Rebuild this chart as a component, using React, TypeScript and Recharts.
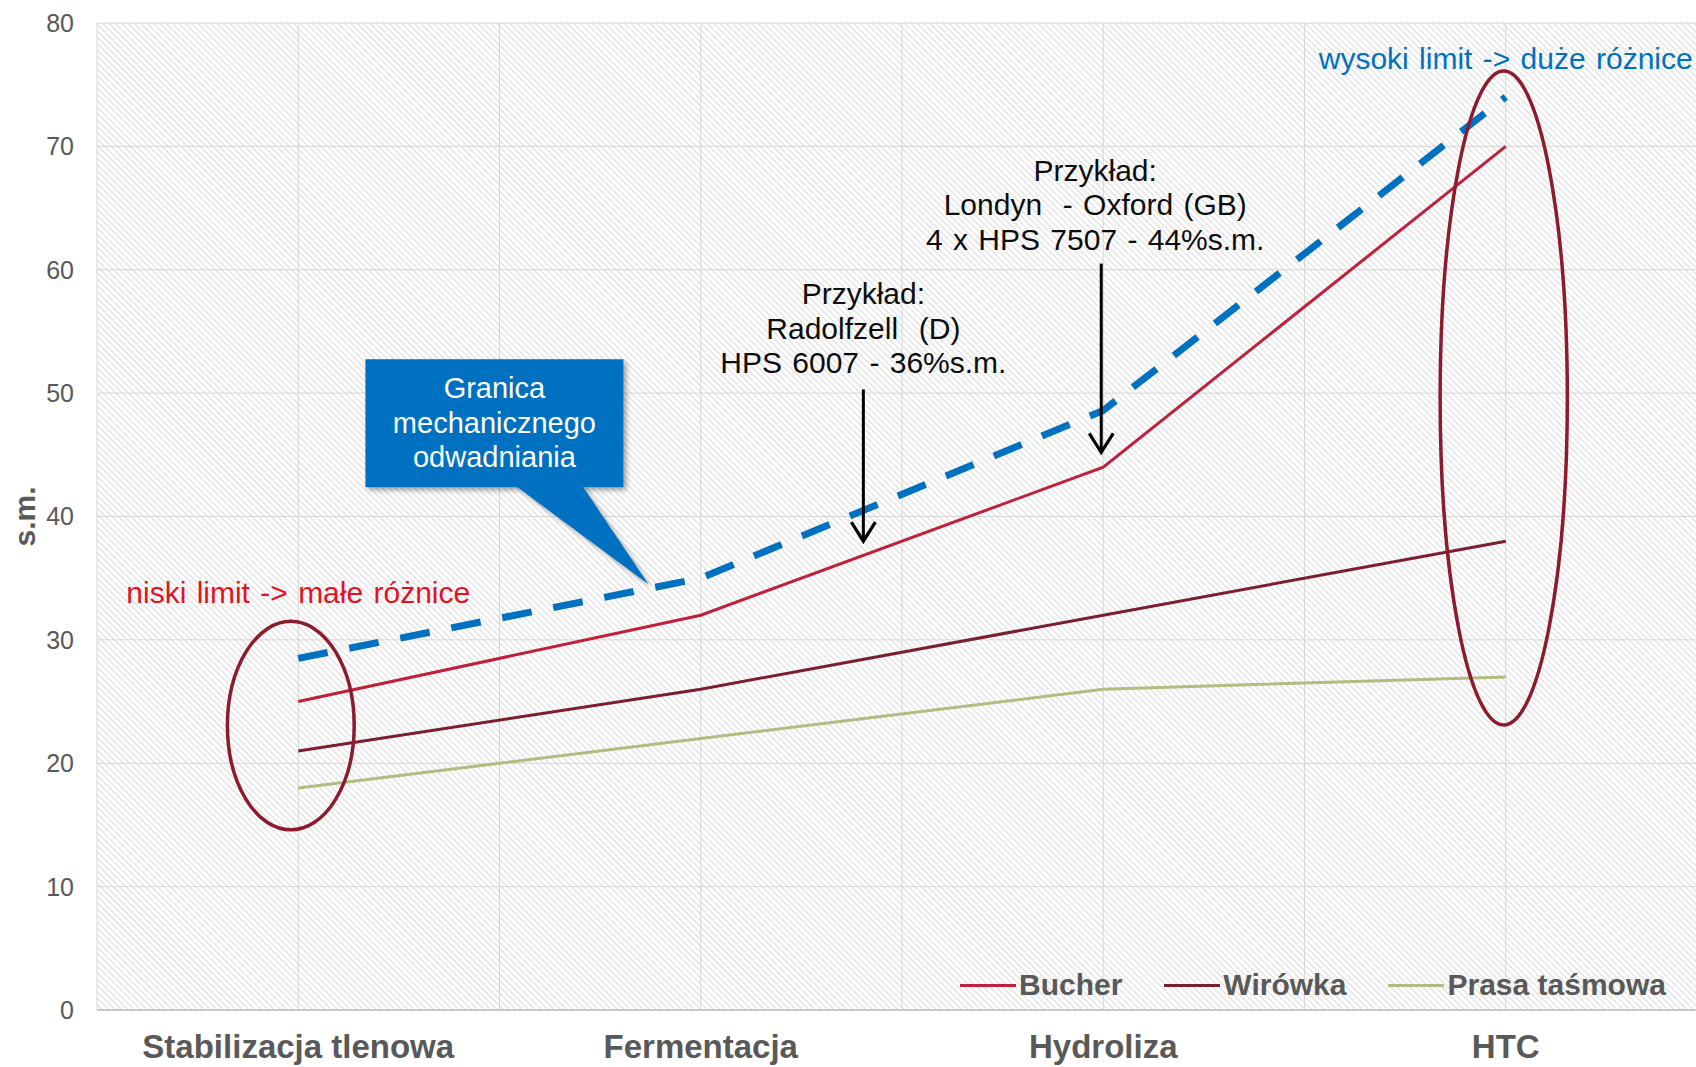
import React from 'react';
import {
  LineChart,
  Line,
  XAxis,
  YAxis,
  CartesianGrid,
  Legend,
  ReferenceDot,
  ReferenceLine,
  ReferenceArea,
} from 'recharts';

const FONT = '"Liberation Sans", Arial, sans-serif';

const categories = ['Stabilizacja tlenowa', 'Fermentacja', 'Hydroliza', 'HTC'];
const bucher = [25, 32, 44, 70];
const wirowka = [21, 26, 32, 38];
const prasaTasmowa = [18, 22, 26, 27];
const granica = [28.5, 35, 48.6, 74];
const yTicks = [0, 10, 20, 30, 40, 50, 60, 70, 80];
// category index axis, half steps give the extra vertical gridlines
const xTicks = [-0.5, 0, 0.5, 1, 1.5, 2, 2.5, 3, 3.5];
const legendOrder = ['bucher', 'wirowka', 'prasa'];

const data = categories.map((name, i) => ({
  idx: i,
  name,
  bucher: bucher[i],
  wirowka: wirowka[i],
  prasa: prasaTasmowa[i],
  granica: granica[i],
}));

// annotations in data units (x = category index, y = s.m.)
const notes = [
  { x: 1.404, y: 57.2, color: '#0d0d0d', lines: ['Przykład:', 'Radolfzell  (D)', 'HPS 6007 - 36%s.m.'] },
  { x: 1.98, y: 67.2, color: '#0d0d0d', lines: ['Przykład:', 'Londyn  - Oxford (GB)', '4 x HPS 7507 - 44%s.m.'] },
  { x: 0, y: 33.0, color: '#E3121F', lines: ['niski limit -> małe różnice'] },
  { x: 3, y: 76.3, color: '#0070C0', lines: ['wysoki limit -> duże różnice'] },
];
const arrows = [
  { x: 1.404, from: 50.3, to: 38.0 },
  { x: 1.995, from: 60.5, to: 45.2 },
];
const rings = [
  { x1: -0.176, x2: 0.139, y1: 14.6, y2: 31.5 },
  { x1: 2.837, x2: 3.153, y1: 23.1, y2: 76.1 },
];
const calloutTip = { x: 0.87, y: 34.5 };
const calloutLines = ['Granica', 'mechanicznego', 'odwadniania'];

const NoteText = ({ cx, cy, note }: any) => (
  <g>
    {note.lines.map((t: string, i: number) => (
      <text
        key={i}
        x={cx}
        y={cy + i * 34.5}
        textAnchor="middle"
        fill={note.color}
        fontSize={30}
        fontFamily={FONT}
        style={{ whiteSpace: 'pre', wordSpacing: 2 }}
      >
        {t}
      </text>
    ))}
  </g>
);

const ArrowShape = ({ x1, y1, x2, y2 }: any) => (
  <g>
    <line x1={x1} y1={y1} x2={x2} y2={y2} stroke="#000" strokeWidth={3} />
    <polyline
      points={`${x2 - 12},${y2 - 19} ${x2},${y2} ${x2 + 12},${y2 - 19}`}
      fill="none"
      stroke="#000"
      strokeWidth={3.2}
    />
  </g>
);

const EllipseShape = ({ x, y, width, height }: any) => (
  <ellipse
    cx={x + width / 2}
    cy={y + height / 2}
    rx={Math.abs(width) / 2}
    ry={Math.abs(height) / 2}
    fill="none"
    stroke="#8B1B2D"
    strokeWidth={3.5}
  />
);

const Callout = ({ cx, cy }: any) => {
  const bx = cx - 283;
  const by = cy - 225;
  const bw = 258;
  const bh = 128;
  const d = `M${bx},${by} H${bx + bw} V${by + bh} H${cx - 65} L${cx},${cy} L${cx - 131},${by + bh} H${bx} Z`;
  return (
    <g>
      <path d={d} fill="#0070C0" filter="url(#calloutShadow)" />
      {calloutLines.map((t, i) => (
        <text
          key={i}
          x={bx + bw / 2}
          y={cy - 186 + i * 34.5}
          textAnchor="middle"
          fill="#fff"
          fontSize={29}
          fontFamily={FONT}
        >
          {t}
        </text>
      ))}
    </g>
  );
};

const LegendContent = ({ payload }: any) => {
  const items = (payload || [])
    .filter((p: any) => legendOrder.includes(p.dataKey))
    .sort((a: any, b: any) => legendOrder.indexOf(a.dataKey) - legendOrder.indexOf(b.dataKey));
  return (
    <div
      style={{
        display: 'flex',
        alignItems: 'center',
        fontFamily: FONT,
        fontWeight: 700,
        fontSize: 30,
        color: '#595959',
        whiteSpace: 'nowrap',
      }}
    >
      {items.map((p: any, i: number) => (
        <div key={i} style={{ display: 'flex', alignItems: 'center', marginRight: 42 }}>
          <span style={{ display: 'inline-block', width: 56, height: 3, background: p.color, marginRight: 3 }} />
          <span>{p.value}</span>
        </div>
      ))}
    </div>
  );
};

export default function App() {
  return (
    <div
      style={{
        position: 'fixed',
        left: 0,
        top: 0,
        width: 1696,
        height: 1067,
        overflow: 'hidden',
        background: '#fff',
      }}
    >
      <LineChart width={1720} height={1067} data={data} margin={{ top: 23, right: 13, bottom: 0, left: 0 }}>
        <defs>
          <pattern id="hatch" width="4.5" height="4.5" patternUnits="userSpaceOnUse" patternTransform="rotate(-45)">
            <rect width="4.5" height="4.5" fill="#ffffff" />
            <line x1="2" y1="0" x2="2" y2="4.5" stroke="#dadada" strokeWidth="1.1" />
          </pattern>
          <filter id="calloutShadow" x="-20%" y="-20%" width="140%" height="140%">
            <feDropShadow dx="3" dy="3" stdDeviation="2.5" floodColor="#000" floodOpacity="0.35" />
          </filter>
        </defs>
        <CartesianGrid fill="url(#hatch)" stroke="#d6d6d6" strokeWidth={1} />
        <XAxis
          type="number"
          dataKey="idx"
          domain={[-0.5, 3.5]}
          ticks={xTicks}
          interval={0}
          tickFormatter={(v: number) => (Number.isInteger(v) ? categories[v] : '')}
          axisLine={{ stroke: '#bfbfbf', strokeWidth: 1.5 }}
          tickLine={false}
          tickMargin={19}
          height={57}
          tick={{ fontSize: 33, fontWeight: 700, fill: '#595959', fontFamily: FONT }}
        />
        <YAxis
          domain={[0, 80]}
          ticks={yTicks}
          width={97}
          axisLine={false}
          tickLine={false}
          tickMargin={17}
          tick={{ fontSize: 25, fill: '#595959', fontFamily: FONT }}
          label={{
            value: 's.m.',
            angle: -90,
            position: 'insideLeft',
            offset: 24,
            style: { textAnchor: 'middle', fontSize: 30, fontWeight: 700, fill: '#595959', fontFamily: FONT },
          }}
        />
        <Line type="linear" dataKey="bucher" name="Bucher" stroke="#C0203C" strokeWidth={3} dot={false} isAnimationActive={false} />
        <Line type="linear" dataKey="wirowka" name="Wirówka" stroke="#7B1E30" strokeWidth={3} dot={false} isAnimationActive={false} />
        <Line type="linear" dataKey="prasa" name="Prasa taśmowa" stroke="#B0BC80" strokeWidth={3} dot={false} isAnimationActive={false} />
        <Line
          type="linear"
          dataKey="granica"
          name="Granica mechanicznego odwadniania"
          stroke="#0070C0"
          strokeWidth={7}
          strokeDasharray="30 22"
          legendType="none"
          dot={false}
          activeDot={false}
          isAnimationActive={false}
        />
        {rings.map((r, i) => (
          <ReferenceArea key={`ring-${i}`} x1={r.x1} x2={r.x2} y1={r.y1} y2={r.y2} ifOverflow="visible" zIndex={450} shape={EllipseShape} />
        ))}
        {arrows.map((a, i) => (
          <ReferenceLine
            key={`arrow-${i}`}
            segment={[{ x: a.x, y: a.from }, { x: a.x, y: a.to }]}
            ifOverflow="visible"
            zIndex={450}
            shape={ArrowShape}
          />
        ))}
        {notes.map((n, i) => (
          <ReferenceDot
            key={`note-${i}`}
            x={n.x}
            y={n.y}
            r={0}
            ifOverflow="visible"
            zIndex={460}
            shape={(p: any) => <NoteText {...p} note={n} />}
          />
        ))}
        <ReferenceDot x={calloutTip.x} y={calloutTip.y} r={0} ifOverflow="visible" zIndex={470} shape={Callout} />
        <Legend
          verticalAlign="middle"
          align="center"
          layout="horizontal"
          content={LegendContent}
          wrapperStyle={{ left: 960, top: 968, width: 'auto' }}
        />
      </LineChart>
    </div>
  );
}
